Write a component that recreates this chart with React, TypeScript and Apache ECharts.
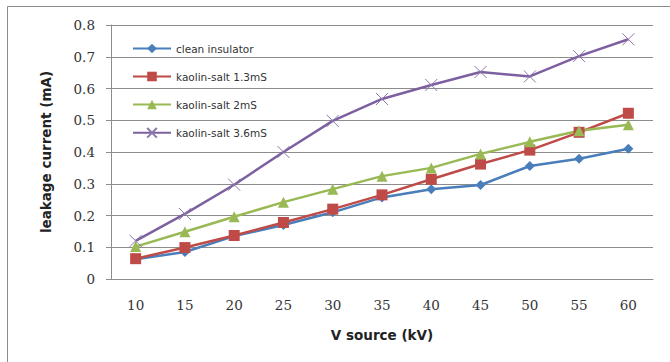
import React, { useEffect, useRef } from "react";
import * as echarts from "echarts";

const categories = ["10", "15", "20", "25", "30", "35", "40", "45", "50", "55", "60"];
const cleanInsulator = [0.062, 0.085, 0.135, 0.17, 0.21, 0.257, 0.283, 0.296, 0.356, 0.379, 0.41];
const kaolin13 = [0.064, 0.099, 0.137, 0.178, 0.22, 0.265, 0.314, 0.362, 0.406, 0.462, 0.522];
const kaolin2 = [0.102, 0.149, 0.196, 0.242, 0.283, 0.324, 0.35, 0.394, 0.432, 0.467, 0.486];
const kaolin36 = [0.12, 0.205, 0.297, 0.4, 0.498, 0.567, 0.611, 0.652, 0.638, 0.702, 0.755];
const seriesNames = ["clean insulator", "kaolin-salt 1.3mS", "kaolin-salt 2mS", "kaolin-salt 3.6mS"];

const crossPath = "path://M0,0L10,10M10,0L0,10";

export default function App() {
  const ref = useRef<HTMLDivElement>(null);
  useEffect(() => {
    const chart = echarts.init(ref.current!, null, { renderer: "svg" });
    const mk = (name: string, data: number[], color: string, symbol: string, size: number, extra: any = {}) => ({
      name,
      type: "line",
      data,
      symbol,
      symbolSize: size,
      lineStyle: { color, width: 2.5 },
      itemStyle: { color, ...extra },
      emphasis: { disabled: true },
    });
    chart.setOption({
      animation: false,
      backgroundColor: "#ffffff",
      graphic: [
        {
          type: "rect",
          shape: { x: 7.5, y: 6.5, width: 700, height: 400 },
          style: { fill: "none", stroke: "#8c8c8c", lineWidth: 1 },
          silent: true,
        },
      ],
      grid: { left: 111, right: 17, top: 25, bottom: 83 },
      legend: {
        orient: "vertical",
        left: 127,
        top: 38,
        itemGap: 17,
        itemWidth: 38,
        itemHeight: 12,
        data: seriesNames,
        textStyle: { fontFamily: "DejaVu Sans", fontSize: 10.5, color: "#333333" },
      },
      xAxis: {
        type: "category",
        data: categories,
        boundaryGap: true,
        name: "V source (kV)",
        nameLocation: "middle",
        nameGap: 49,
        nameTextStyle: { fontFamily: "DejaVu Sans", fontWeight: "bold", fontSize: 13.5, color: "#222222" },
        axisLine: { lineStyle: { color: "#8c8c8c" } },
        axisTick: { show: false },
        axisLabel: { margin: 19, fontFamily: "DejaVu Serif", fontSize: 13.5, color: "#333333" },
        splitLine: { show: false },
      },
      yAxis: {
        type: "value",
        min: 0,
        max: 0.8,
        interval: 0.1,
        name: "leakage current (mA)",
        nameLocation: "middle",
        nameGap: 58,
        nameTextStyle: { fontFamily: "DejaVu Sans", fontWeight: "bold", fontSize: 13.5, color: "#222222" },
        axisLine: { show: true, lineStyle: { color: "#8c8c8c" } },
        axisTick: { show: true, length: 5, lineStyle: { color: "#8c8c8c" } },
        axisLabel: { margin: 16, fontFamily: "DejaVu Serif", fontSize: 13.5, color: "#333333" },
        splitLine: { lineStyle: { color: "#8c8c8c", width: 1 } },
      },
      series: [
        mk(seriesNames[0], cleanInsulator, "#4a7ebb", "diamond", 10),
        mk(seriesNames[1], kaolin13, "#be4b48", "rect", 11),
        mk(seriesNames[2], kaolin2, "#98b954", "triangle", 11),
        mk(seriesNames[3], kaolin36, "#7d60a0", crossPath, 12, { borderColor: "#8b78ad", borderWidth: 1 }),
      ],
    });
    return () => chart.dispose();
  }, []);
  return <div ref={ref} style={{ position: "fixed", left: 0, top: 0, width: 670, height: 362 }} />;
}
